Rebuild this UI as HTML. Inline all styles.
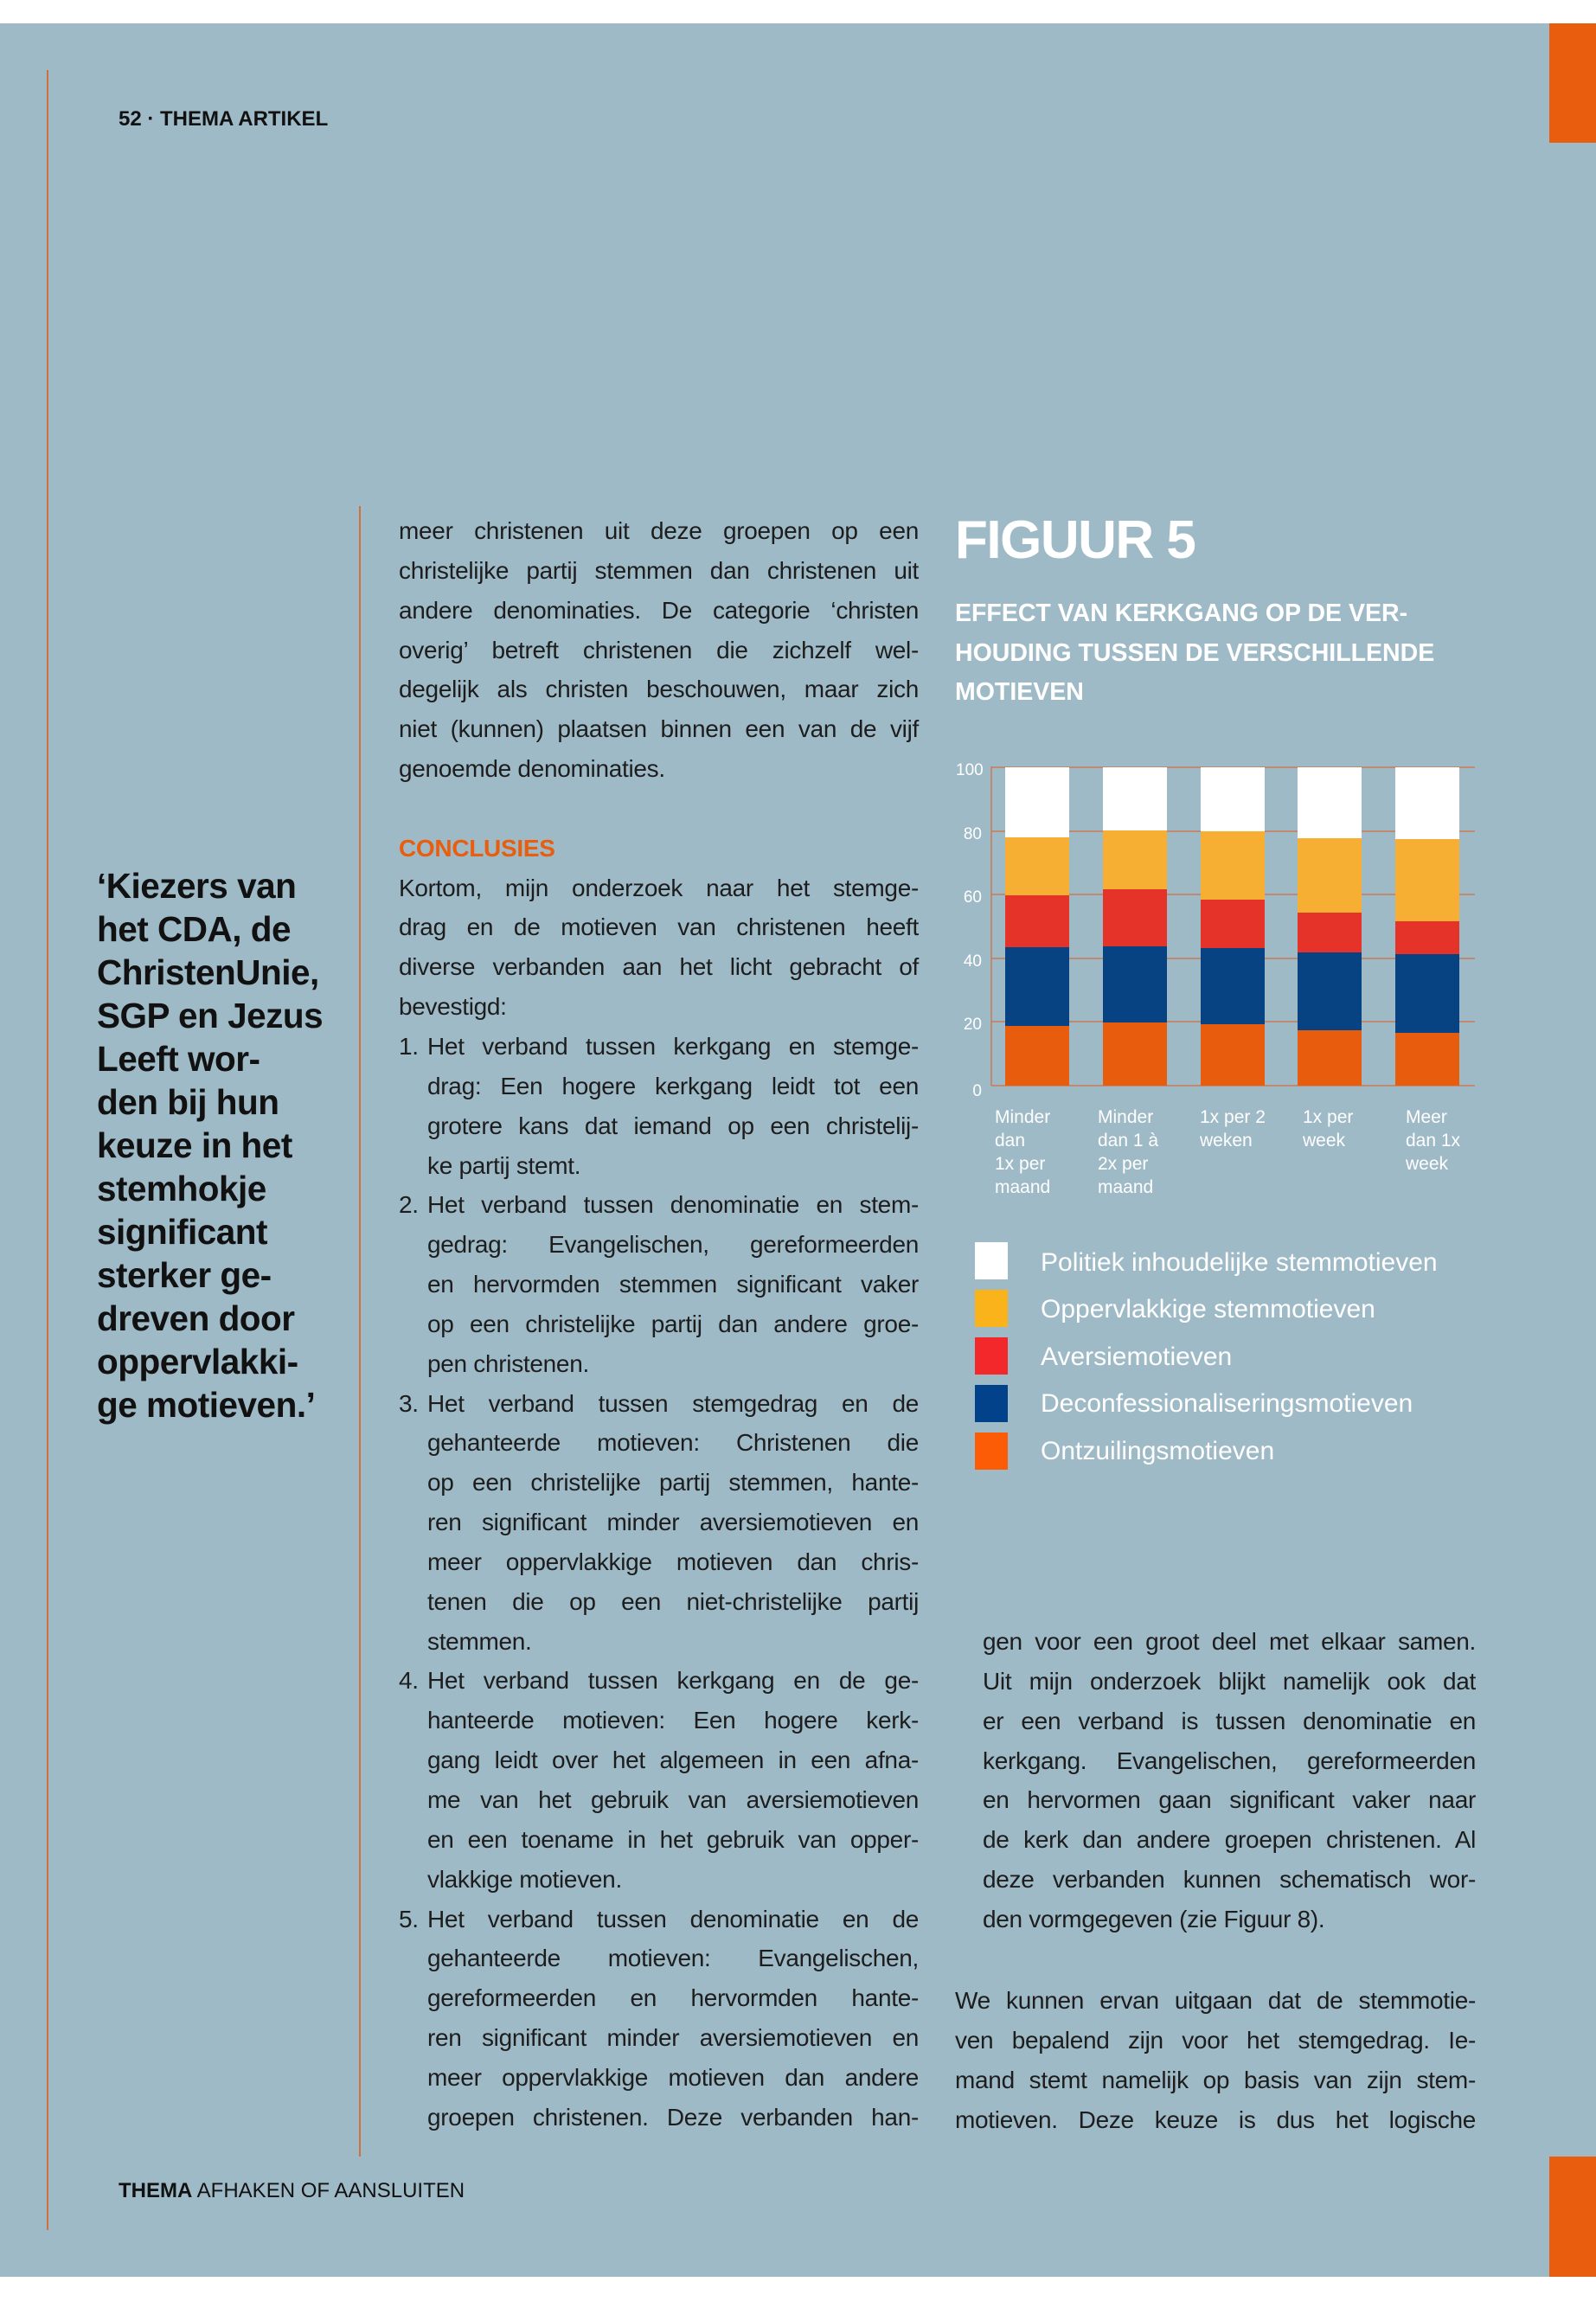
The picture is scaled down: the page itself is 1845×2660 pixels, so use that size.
<!DOCTYPE html>
<html><head><meta charset="utf-8">
<style>
*{margin:0;padding:0;box-sizing:border-box}
body{width:1845px;height:2660px;background:#fff;position:relative;overflow:hidden;font-family:"Liberation Sans",sans-serif}
.bg{position:absolute;left:0;top:27px;width:1845px;height:2605px;background:#9fbac7}
.a{position:absolute}
.col{position:absolute;font-size:28px;line-height:45.85px;color:#1d1d1d;letter-spacing:-0.3px}
.col div{white-space:nowrap;text-align:justify;text-align-last:justify;height:45.85px}
.col div.l{text-align-last:left}
.li{padding-left:33px;position:relative}
.li b{position:absolute;left:0;font-weight:normal}
.q{position:absolute;left:112px;top:999px;font-size:40.5px;line-height:50px;font-weight:bold;color:#111;letter-spacing:-0.5px}
.leg{position:absolute;left:1127px;width:38px;height:43px}
.lt{position:absolute;left:1203px;font-size:30px;color:#fff;font-weight:300;white-space:nowrap}
.tk{position:absolute;font-size:19px;color:#fff;width:30px;text-align:right;left:1105px}
.cat{position:absolute;font-size:21px;line-height:27px;color:#fff;white-space:nowrap}
</style></head><body>
<div class="bg"></div>
<div class="a" style="left:1791px;top:27px;width:54px;height:138px;background:#e85d0e"></div>
<div class="a" style="left:1791px;top:2493px;width:54px;height:139px;background:#e85d0e"></div>
<div class="a" style="left:54px;top:81px;width:2px;height:2497px;background:#d0703a"></div>
<div class="a" style="left:415px;top:585px;width:2px;height:1908px;background:#d0703a"></div>
<div class="a" style="left:137px;top:124px;font-size:24px;font-weight:bold;color:#111">52 · THEMA ARTIKEL</div>
<div class="a" style="left:137px;top:2519px;font-size:24px;color:#111"><b>THEMA</b> AFHAKEN OF AANSLUITEN</div>

<div class="q">‘Kiezers van<br>het CDA, de<br>ChristenUnie,<br>SGP en Jezus<br>Leeft wor-<br>den bij hun<br>keuze in het<br>stemhokje<br>significant<br>sterker ge-<br>dreven door<br>oppervlakki-<br>ge motieven.’</div>

<div class="col" style="left:461px;top:591px;width:601px">
<div>meer christenen uit deze groepen op een</div>
<div>christelijke partij stemmen dan christenen uit</div>
<div>andere denominaties. De categorie ‘christen</div>
<div>overig’ betreft christenen die zichzelf wel-</div>
<div>degelijk als christen beschouwen, maar zich</div>
<div>niet (kunnen) plaatsen binnen een van de vijf</div>
<div class="l">genoemde denominaties.</div>
<div class="l"></div>
<div class="l" style="color:#e85d0e;font-weight:bold">CONCLUSIES</div>
<div>Kortom, mijn onderzoek naar het stemge-</div>
<div>drag en de motieven van christenen heeft</div>
<div>diverse verbanden aan het licht gebracht of</div>
<div class="l">bevestigd:</div>
<div class="li"><b>1.</b>Het verband tussen kerkgang en stemge-</div>
<div class="li">drag: Een hogere kerkgang leidt tot een</div>
<div class="li">grotere kans dat iemand op een christelij-</div>
<div class="li l">ke partij stemt.</div>
<div class="li"><b>2.</b>Het verband tussen denominatie en stem-</div>
<div class="li">gedrag: Evangelischen, gereformeerden</div>
<div class="li">en hervormden stemmen significant vaker</div>
<div class="li">op een christelijke partij dan andere groe-</div>
<div class="li l">pen christenen.</div>
<div class="li"><b>3.</b>Het verband tussen stemgedrag en de</div>
<div class="li">gehanteerde motieven: Christenen die</div>
<div class="li">op een christelijke partij stemmen, hante-</div>
<div class="li">ren significant minder aversiemotieven en</div>
<div class="li">meer oppervlakkige motieven dan chris-</div>
<div class="li">tenen die op een niet-christelijke partij</div>
<div class="li l">stemmen.</div>
<div class="li"><b>4.</b>Het verband tussen kerkgang en de ge-</div>
<div class="li">hanteerde motieven: Een hogere kerk-</div>
<div class="li">gang leidt over het algemeen in een afna-</div>
<div class="li">me van het gebruik van aversiemotieven</div>
<div class="li">en een toename in het gebruik van opper-</div>
<div class="li l">vlakkige motieven.</div>
<div class="li"><b>5.</b>Het verband tussen denominatie en de</div>
<div class="li">gehanteerde motieven: Evangelischen,</div>
<div class="li">gereformeerden en hervormden hante-</div>
<div class="li">ren significant minder aversiemotieven en</div>
<div class="li">meer oppervlakkige motieven dan andere</div>
<div class="li">groepen christenen. Deze verbanden han-</div>
</div>

<div class="col" style="left:1136px;top:1875px;width:570px">
<div>gen voor een groot deel met elkaar samen.</div>
<div>Uit mijn onderzoek blijkt namelijk ook dat</div>
<div>er een verband is tussen denominatie en</div>
<div>kerkgang. Evangelischen, gereformeerden</div>
<div>en hervormen gaan significant vaker naar</div>
<div>de kerk dan andere groepen christenen. Al</div>
<div>deze verbanden kunnen schematisch wor-</div>
<div class="l">den vormgegeven (zie Figuur 8).</div>
</div>
<div class="col" style="left:1104px;top:2290px;width:602px">
<div>We kunnen ervan uitgaan dat de stemmotie-</div>
<div>ven bepalend zijn voor het stemgedrag. Ie-</div>
<div>mand stemt namelijk op basis van zijn stem-</div>
<div>motieven. Deze keuze is dus het logische</div>
</div>

<div class="a" style="left:1104px;top:589px;font-size:62px;font-weight:bold;color:#fff;letter-spacing:-1.5px">FIGUUR 5</div>
<div class="a" style="left:1104px;top:687px;font-size:28.5px;line-height:45.5px;font-weight:bold;color:#fff;white-space:nowrap">EFFECT VAN KERKGANG OP DE VER-<br>HOUDING TUSSEN DE VERSCHILLENDE<br>MOTIEVEN</div>

<svg class="a" style="left:0;top:0" width="1845" height="2660">
<g stroke="#c87a55" stroke-width="1.5">
<line x1="1146" y1="886" x2="1146" y2="1255"/>
<line x1="1146" y1="887" x2="1705" y2="887"/>
<line x1="1146" y1="961" x2="1705" y2="961"/>
<line x1="1146" y1="1034" x2="1705" y2="1034"/>
<line x1="1146" y1="1108" x2="1705" y2="1108"/>
<line x1="1146" y1="1181" x2="1705" y2="1181"/>
<line x1="1146" y1="1255" x2="1705" y2="1255"/>
</g>
</svg>
<div class="tk" style="top:880px">100</div>
<div class="tk" style="top:954px">80</div>
<div class="tk" style="top:1027px">60</div>
<div class="tk" style="top:1101px">40</div>
<div class="tk" style="top:1174px">20</div>
<div class="tk" style="top:1251px">0</div>
<div class="cat" style="left:1150px;top:1278px">Minder<br>dan<br>1x per<br>maand</div>
<div class="cat" style="left:1269px;top:1278px">Minder<br>dan 1 à<br>2x per<br>maand</div>
<div class="cat" style="left:1387px;top:1278px">1x per 2<br>weken</div>
<div class="cat" style="left:1506px;top:1278px">1x per<br>week</div>
<div class="cat" style="left:1625px;top:1278px">Meer<br>dan 1x<br>week</div>

<div class="leg" style="top:1436px;background:#fff"></div>
<div class="leg" style="top:1491px;background:#fbb31c"></div>
<div class="leg" style="top:1546px;background:#f2282a"></div>
<div class="leg" style="top:1601px;background:#02428a"></div>
<div class="leg" style="top:1656px;background:#fd5c06"></div>
<div class="lt" style="top:1443px">Politiek inhoudelijke stemmotieven</div>
<div class="lt" style="top:1497px">Oppervlakkige stemmotieven</div>
<div class="lt" style="top:1552px">Aversiemotieven</div>
<div class="lt" style="top:1606px">Deconfessionaliseringsmotieven</div>
<div class="lt" style="top:1661px">Ontzuilingsmotieven</div>

<svg class="a" style="left:0;top:0" width="1845" height="2660">
<g>
<rect x="1162" y="887" width="74" height="81" fill="#fff"/>
<rect x="1162" y="968" width="74" height="67" fill="#f6ae33"/>
<rect x="1162" y="1035" width="74" height="60" fill="#e6332a"/>
<rect x="1162" y="1095" width="74" height="91" fill="#074383"/>
<rect x="1162" y="1186" width="74" height="69" fill="#e85c0e"/>

<rect x="1275" y="887" width="74" height="73" fill="#fff"/>
<rect x="1275" y="960" width="74" height="68" fill="#f6ae33"/>
<rect x="1275" y="1028" width="74" height="66" fill="#e6332a"/>
<rect x="1275" y="1094" width="74" height="88" fill="#074383"/>
<rect x="1275" y="1182" width="74" height="73" fill="#e85c0e"/>

<rect x="1388" y="887" width="74" height="74" fill="#fff"/>
<rect x="1388" y="961" width="74" height="79" fill="#f6ae33"/>
<rect x="1388" y="1040" width="74" height="56" fill="#e6332a"/>
<rect x="1388" y="1096" width="74" height="88" fill="#074383"/>
<rect x="1388" y="1184" width="74" height="71" fill="#e85c0e"/>

<rect x="1500" y="887" width="74" height="82" fill="#fff"/>
<rect x="1500" y="969" width="74" height="86" fill="#f6ae33"/>
<rect x="1500" y="1055" width="74" height="46" fill="#e6332a"/>
<rect x="1500" y="1101" width="74" height="90" fill="#074383"/>
<rect x="1500" y="1191" width="74" height="64" fill="#e85c0e"/>

<rect x="1613" y="887" width="74" height="83" fill="#fff"/>
<rect x="1613" y="970" width="74" height="95" fill="#f6ae33"/>
<rect x="1613" y="1065" width="74" height="38" fill="#e6332a"/>
<rect x="1613" y="1103" width="74" height="91" fill="#074383"/>
<rect x="1613" y="1194" width="74" height="61" fill="#e85c0e"/>
</g>
</svg>
</body></html>
